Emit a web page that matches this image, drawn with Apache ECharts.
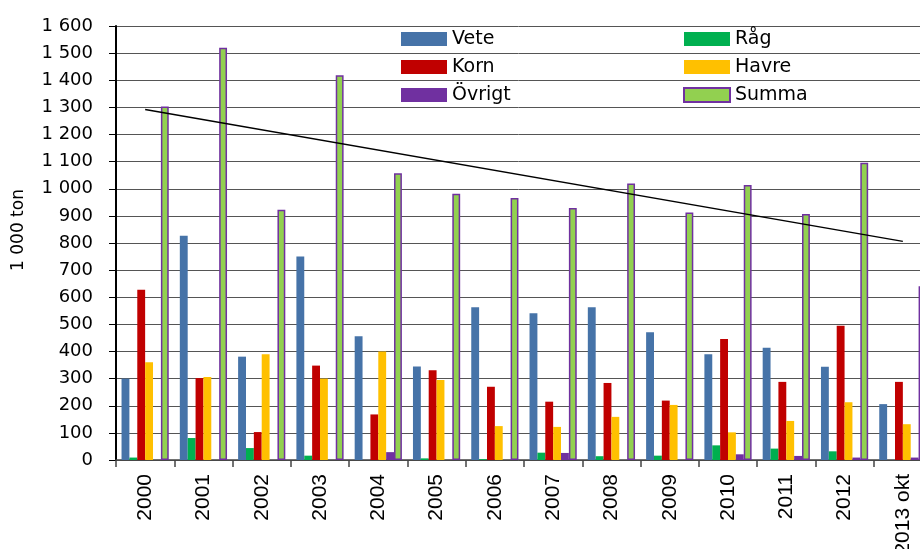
<!DOCTYPE html>
<html>
<head>
<meta charset="utf-8">
<script src="https://cdn.jsdelivr.net/npm/echarts@6/dist/echarts.min.js"></script>
<style>
html,body{margin:0;padding:0;background:#fff;}
#chart{width:920px;height:549px;}
</style>
</head>
<body>
<div id="chart"></div>
<script>
var categories = ['2000','2001','2002','2003','2004','2005','2006','2007','2008','2009','2010','2011','2012','2013 okt'];
var vete   = [300, 827, 381, 750, 456, 345, 563, 541, 563, 471, 390, 414, 344, 206];
var rag    = [9, 81, 44, 16, 0, 6, 3, 27, 14, 16, 54, 42, 32, 0];
var korn   = [628, 302, 103, 348, 168, 331, 270, 215, 284, 219, 446, 288, 495, 288];
var havre  = [360, 306, 390, 300, 400, 295, 125, 122, 159, 203, 102, 144, 213, 132];
var ovrigt = [0, 0, 0, 0, 29, 0, 0, 26, 0, 0, 21, 15, 9, 9];
var summa  = [1303, 1520, 923, 1418, 1057, 982, 966, 929, 1019, 912, 1014, 907, 1096, 641];
var trend  = [1292, null, null, null, null, null, null, null, null, null, null, null, null, 806];
var yTicks = {min: 0, max: 1600, step: 100};

var font = 'DejaVu Sans';
function fmt(v){
  var s = String(v);
  if (s.length > 3) s = s.slice(0, s.length - 3) + ' ' + s.slice(s.length - 3);
  return s;
}
function bar(name, data, color, extra){
  var o = {
    name: name, type: 'bar', data: data,
    barGap: 0, barCategoryGap: '19%',
    itemStyle: {color: color},
    emphasis: {disabled: true}
  };
  if (extra) o.itemStyle = Object.assign(o.itemStyle, extra);
  return o;
}
var chart = echarts.init(document.getElementById('chart'), null, {renderer: 'canvas'});
var legendCommon = {
  orient: 'vertical', top: 29, itemWidth: 46, itemHeight: 14, itemGap: 8,
  icon: 'rect', padding: 0, selectedMode: false,
  textStyle: {fontFamily: font, fontSize: 19, color: '#000', lineHeight: 20}
};
chart.setOption({
  animation: false,
  textStyle: {fontFamily: font},
  grid: {left: 116, top: 26, height: 434, width: 816, containLabel: false, outerBoundsMode: 'none'},
  legend: [
    Object.assign({left: 401, data: ['Vete', 'Korn', 'Övrigt']}, legendCommon),
    Object.assign({left: 683, data: ['Råg', 'Havre', 'Summa']}, legendCommon)
  ],
  xAxis: {
    type: 'category', data: categories, boundaryGap: true,
    axisLine: {lineStyle: {color: '#444', width: 1.5}},
    axisTick: {show: true, length: 7, lineStyle: {color: '#444', width: 1.5}},
    axisLabel: {rotate: 90, margin: 14, fontFamily: 'Liberation Sans', fontSize: 21, color: '#000', interval: 0}
  },
  yAxis: {
    type: 'value', min: yTicks.min, max: yTicks.max, interval: yTicks.step,
    name: '1 000 ton', nameLocation: 'middle', nameGap: 89, nameRotate: 90,
    nameTextStyle: {fontFamily: font, fontSize: 17, color: '#000', padding: [0, 0, 0, 26]},
    axisLine: {show: true, lineStyle: {color: '#000', width: 2}},
    axisTick: {show: true, length: 7, lineStyle: {color: '#000', width: 1}},
    axisLabel: {margin: 23, fontFamily: font, fontSize: 18, color: '#000', formatter: fmt},
    splitLine: {show: true, lineStyle: {color: '#555', width: 1}}
  },
  series: [
    bar('Vete', vete, '#4673A8'),
    bar('Råg', rag, '#00B050'),
    bar('Korn', korn, '#C00000'),
    bar('Havre', havre, '#FFC000'),
    bar('Övrigt', ovrigt, '#7030A0'),
    bar('Summa', summa, '#92D050', {borderColor: '#7030A0', borderWidth: 1.5}),
    {
      name: 'Trend', type: 'line', data: trend, connectNulls: true,
      symbol: 'none', lineStyle: {color: '#000', width: 1.5}, z: 5,
      emphasis: {disabled: true}, silent: true
    }
  ]
});
</script>
</body>
</html>
